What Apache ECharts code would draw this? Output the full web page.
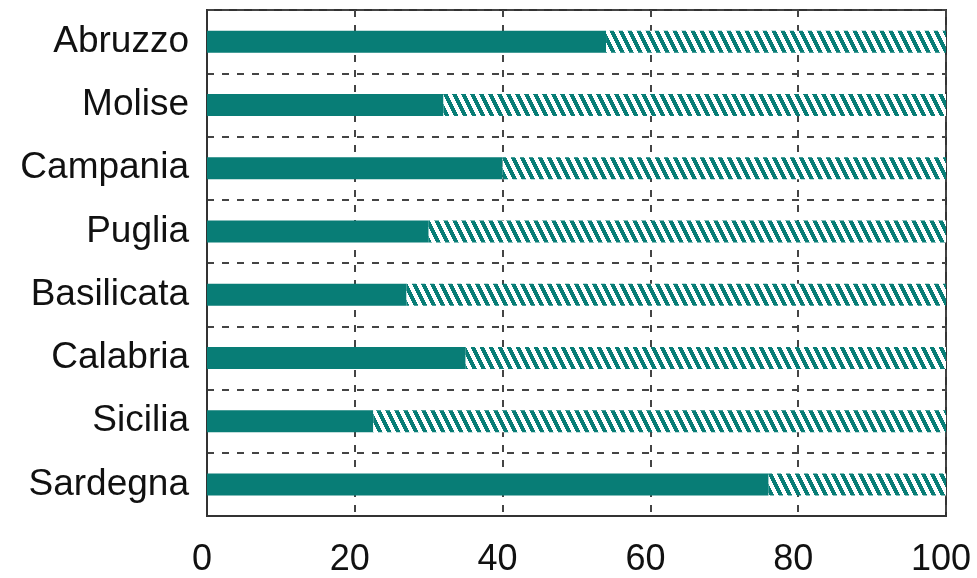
<!DOCTYPE html>
<html>
<head>
<meta charset="utf-8">
<script src="https://cdn.jsdelivr.net/npm/echarts@6/dist/echarts.min.js"></script>
<style>html,body{margin:0;padding:0;background:#fff;}#c{width:977px;height:578px;}</style>
</head>
<body>
<div id="c"></div>
<script>
const categories = ['Abruzzo','Molise','Campania','Puglia','Basilicata','Calabria','Sicilia','Sardegna'];
const solidValues = [54, 32, 40, 30, 27, 35, 22.5, 76];
const hatchedValues = [46, 68, 60, 70, 73, 65, 77.5, 24];
const xTicks = [0, 20, 40, 60, 80, 100];

const TEAL = '#087d76';

function makeHatch() {
  const w = 9, h = 18;
  const cv = document.createElement('canvas');
  cv.width = w; cv.height = h;
  const ctx = cv.getContext('2d');
  const img = ctx.createImageData(w, h);
  for (let y = 0; y < h; y++) {
    for (let x = 0; x < w; x++) {
      let t = (x - y * 0.5) % 9;
      if (t < 0) t += 9;
      const on = t < 4.5;
      const i = (y * w + x) * 4;
      if (on) { img.data[i] = 8; img.data[i+1] = 125; img.data[i+2] = 118; }
      else { img.data[i] = 255; img.data[i+1] = 255; img.data[i+2] = 255; }
      img.data[i+3] = 255;
    }
  }
  ctx.putImageData(img, 0, 0);
  return cv;
}

const chart = echarts.init(document.getElementById('c'), null, {renderer: 'canvas'});
chart.setOption({
  animation: false,
  backgroundColor: '#ffffff',
  grid: {
    left: 207, right: 31, top: 10, bottom: 60,
    show: true, borderColor: '#333', borderWidth: 2, backgroundColor: 'transparent'
  },
  xAxis: {
    type: 'value', min: 0, max: 100, interval: 20,
    axisLine: {show: true, lineStyle: {color: '#333', width: 2}},
    axisTick: {show: false},
    splitLine: {show: true, lineStyle: {color: '#444', width: 2, type: [7, 8]}},
    axisLabel: {
      fontFamily: 'Liberation Sans, Arial, sans-serif', fontSize: 36, color: '#111',
      margin: 26, padding: [0, 10, 0, 0],
      formatter: function (v) { return xTicks.indexOf(v) >= 0 ? String(v) : ''; }
    }
  },
  yAxis: {
    type: 'category', data: categories, inverse: true,
    axisLine: {show: true, lineStyle: {color: '#333', width: 2}},
    axisTick: {show: false},
    splitLine: {show: true, lineStyle: {color: '#444', width: 2, type: [7, 8]}},
    axisLabel: {
      fontFamily: 'Liberation Sans, Arial, sans-serif', fontSize: 37, color: '#111', margin: 18
    }
  },
  series: [
    {
      type: 'bar', stack: 'total', data: solidValues, barWidth: 22,
      itemStyle: {color: TEAL}
    },
    {
      type: 'bar', stack: 'total', data: hatchedValues, barWidth: 22,
      itemStyle: {color: {image: makeHatch(), repeat: 'repeat'}}
    }
  ]
});
</script>
</body>
</html>
